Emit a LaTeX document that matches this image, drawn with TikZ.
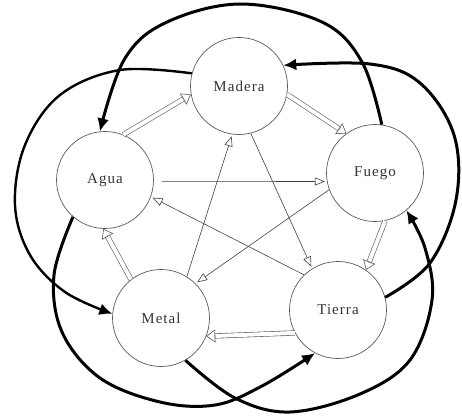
\documentclass[tikz,border=0pt]{standalone}
\usepackage{fontspec}
\setmainfont{Liberation Serif}
\usetikzlibrary{arrows.meta,calc}
\newcommand\dblarrow[2]{%
  \draw[dblshaft, shorten >=8pt] (#1) -- (#2);
  \draw[dbltip] ($(#2)!8pt!(#1)$) -- (#2);
}
\begin{document}
\begin{tikzpicture}[x=1pt,y=-1pt,
  elem/.style={circle, draw=black!65, line width=0.7pt, minimum size=97pt, inner sep=0pt,
    font=\fontsize{15}{17}\selectfont\addfontfeatures{LetterSpace=7}, text=black!80},
  thickarr/.style={line width=3pt, draw=black, -{Latex[length=13pt,width=12pt]}},
  thinarr/.style={draw=black!75, line width=0.6pt, -{Triangle[open,length=10pt,width=8pt]}, shorten >=2pt},
  dblshaft/.style={draw=black!65, line width=0.6pt, double=white, double distance=4pt},
  dbltip/.style={draw=black!65, line width=0.6pt, -{Triangle[open,length=9pt,width=13pt]}}
]
\useasboundingbox (0,0) rectangle (462,417);

\node[elem] (Madera) at (239,86) {Madera};
\node[elem] (Agua) at (105,180) {Agua};
\node[elem] (Fuego) at (375,173) {Fuego};
\node[elem] (Metal) at (161,318) {Metal};
\node[elem] (Tierra) at (338,310) {Tierra};

% generating cycle (double arrows)
\dblarrow{Agua.68}{Madera.190}
\dblarrow{Madera.-10}{Fuego.126}
\dblarrow{Fuego.-78}{Tierra.55}
\dblarrow{Tierra.208}{Metal.-22}
\dblarrow{Metal.128}{Agua.268}

% star (thin arrows)
\draw[thinarr, shorten <=8pt] (Agua.-2) -- (Fuego.190);
\draw[thinarr] (Fuego.200) -- (Metal.45);
\draw[thinarr] (Metal.58) -- (Madera.262);
\draw[thinarr] (Madera.284) -- (Tierra.122);
\draw[thinarr] (Tierra.134) -- (Agua.-20);

% outer thick arrows
\draw[thickarr] plot[smooth, tension=0.6] coordinates {(Fuego.82) (362,62) (322,22) (240,4) (165,23) (124,60) (Agua.96)};
\draw[thickarr, line width=2.4pt] plot[smooth, tension=0.6] coordinates {(Madera.165) (120,70) (60,95) (25,145) (15,205) (30,255) (65,292) (Metal.175)};
\draw[thickarr] plot[smooth, tension=0.6] coordinates {(Agua.229) (54,275) (62,332) (100,378) (160,402) (215,405) (262,386) (Tierra.242)};
\draw[thickarr] plot[smooth, tension=0.6] coordinates {(Metal.-60) (235,398) (290,412) (360,394) (410,360) (432,300) (425,248) (Fuego.-50)};
\draw[thickarr] plot[smooth, tension=0.6] coordinates {(Tierra.15) (430,263) (456,200) (454,135) (420,83) (370,64) (Madera.25)};
\end{tikzpicture}
\end{document}
